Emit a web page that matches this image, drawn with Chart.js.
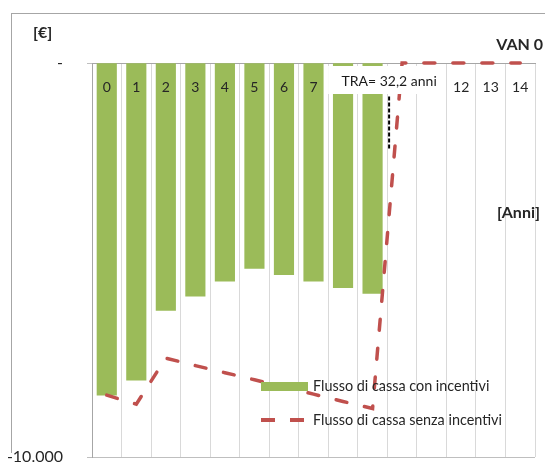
<!DOCTYPE html>
<html lang="it">
<head>
<meta charset="utf-8">
<title>Flusso di cassa</title>
<script src="https://cdn.jsdelivr.net/npm/chart.js@4.4.1/dist/chart.umd.min.js"></script>
<style>
    body {
        margin: 0;
        width: 545px;
        height: 465px;
        overflow: hidden;
        position: relative;
        background: #fff;
        font-family: Lato, "Liberation Sans", sans-serif;
        color: #262626;
    }
    .cornice {
        position: absolute;
        left: 11px;
        top: 13px;
        width: 600px;
        height: 439px;
        border: 1px solid #a6a6a6;
        border-bottom: none;
    }
    #grafico {
        position: absolute;
        left: 0;
        top: 0;
    }
    .etichetta {
        position: absolute;
        font-weight: bold;
        font-size: 16px;
        line-height: 18px;
        white-space: nowrap;
    }
    .legenda {
        position: absolute;
        font-size: 14.4px;
        line-height: 16px;
        white-space: nowrap;
        color: #262626;
    }
    .campione {
        position: absolute;
    }
</style>
</head>
<body>
<div class="cornice"></div>
<canvas id="grafico" width="545" height="465"></canvas>

<div class="etichetta" style="left:33px; top:23px;">[€]</div>
<div class="etichetta" style="right:2px; top:35px;">VAN 0</div>
<div class="etichetta" style="right:5px; top:203px;">[Anni]</div>

<!-- legenda -->
<div class="campione" style="left:261px; top:382px; width:47px; height:9px; background:#9bbb59;"></div>
<div class="legenda" style="left:313px; top:378px;">Flusso di cassa con incentivi</div>
<svg class="campione" style="left:261px; top:416px;" width="47" height="8">
    <line x1="0" y1="4" x2="47" y2="4" stroke="#c0504d" stroke-width="4" stroke-dasharray="14 15"/>
</svg>
<div class="legenda" style="left:313px; top:412px;">Flusso di cassa senza incentivi</div>

<script>
// anni sull'asse delle categorie
const anni = ['0', '1', '2', '3', '4', '5', '6', '7', '8', '9', '10', '11', '12', '13', '14'];

// flusso cumulato con incentivi [€]
const flussoConIncentivi = [-8430, -8050, -6280, -5920, -5540, -5215, -5370, -5540, -5700, -5850,
    null, null, null, null, null];

// flusso cumulato senza incentivi [€]
const flussoSenzaIncentivi = [-8430, -8660, -7490, -7680, -7860, -8040, -8220, -8405, -8590, -8770,
    0, 0, 0, 0, 0];

// tempo di ritorno: posizione sull'asse e tratto verticale
const traTesto = 'TRA= 32,2 anni';
const traPosizione = 9.56;
const traTratto = [-850, -2170];

// tacche asse verticale
const asseMin = -10000;
const asseMax = 0;

// formato numeri all'italiana, zero come trattino
function formatoEuro(v) {
    if (v === 0) return '-';
    const s = String(Math.abs(v)).replace(/\B(?=(\d{3})+(?!\d))/g, '.');
    return (v < 0 ? '-' : '') + s;
}

// riquadro bianco con l'etichetta del TRA
const riquadroTra = {
    id: 'riquadroTra',
    afterDraw(chart) {
        const ctx = chart.ctx;
        const x = chart.scales.xv.getPixelForValue(traPosizione);
        const top = chart.scales.y.getPixelForValue(0);
        ctx.save();
        ctx.fillStyle = '#ffffff';
        ctx.fillRect(x - 61, top + 3, 116, 28);
        ctx.fillStyle = '#1a1a1a';
        ctx.font = '14px Lato, "Liberation Sans", sans-serif';
        ctx.textAlign = 'center';
        ctx.textBaseline = 'middle';
        ctx.fillText(traTesto, x, top + 18);
        ctx.restore();
    }
};

const ctx = document.getElementById('grafico').getContext('2d');

new Chart(ctx, {
    data: {
        labels: anni,
        datasets: [
            {
                type: 'line',
                label: 'Flusso di cassa senza incentivi',
                data: flussoSenzaIncentivi,
                borderColor: '#c0504d',
                borderWidth: 3.5,
                borderDash: [11, 18],
                borderCapStyle: 'round',
                pointRadius: 0,
                tension: 0,
                clip: false,
                order: 0
            },
            {
                type: 'line',
                label: 'TRA',
                xAxisID: 'xv',
                data: traTratto.map(v => ({ x: traPosizione, y: v })),
                borderColor: '#000000',
                borderWidth: 2,
                borderDash: [4, 2],
                pointRadius: 0,
                order: 0
            },
            {
                type: 'bar',
                label: 'Flusso di cassa con incentivi',
                data: flussoConIncentivi,
                backgroundColor: '#9bbb59',
                borderWidth: 0,
                grouped: false,
                barThickness: 19.5,
                order: 1
            }
        ]
    },
    options: {
        responsive: false,
        animation: false,
        layout: {
            padding: { left: 0, top: 63, right: 10, bottom: 8 }
        },
        plugins: {
            legend: { display: false },
            tooltip: { enabled: false }
        },
        scales: {
            x: {
                type: 'category',
                // asse delle categorie sullo zero, in alto dentro il grafico
                position: { y: 0 },
                offset: true,
                grid: {
                    offset: true,
                    color: '#d9d9d9',
                    drawTicks: false
                },
                border: { color: '#a6a6a6' },
                ticks: {
                    z: 1,
                    padding: 16,
                    color: '#262626',
                    maxRotation: 0,
                    autoSkip: false,
                    font: { family: 'Lato, "Liberation Sans", sans-serif', size: 14 }
                }
            },
            xv: {
                type: 'linear',
                display: false,
                min: -0.5,
                max: anni.length - 0.5
            },
            y: {
                min: asseMin,
                max: asseMax,
                afterFit(scale) {
                    scale.width = 92;
                    scale.paddingTop = 0;
                    scale.paddingBottom = 0;
                },
                grid: {
                    color: '#bfbfbf',
                    tickLength: 5
                },
                border: { color: '#a6a6a6' },
                ticks: {
                    stepSize: asseMax - asseMin,
                    padding: 24,
                    color: '#262626',
                    callback: v => formatoEuro(v),
                    font: { family: 'Lato, "Liberation Sans", sans-serif', size: 16 }
                }
            }
        }
    },
    plugins: [riquadroTra]
});
</script>
</body>
</html>
